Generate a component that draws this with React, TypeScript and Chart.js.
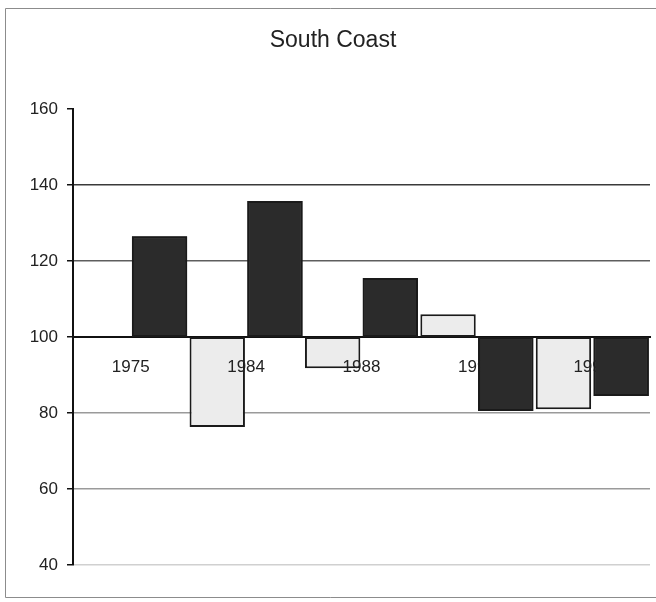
import React, { useEffect, useRef } from 'react';
import { Chart, registerables } from 'chart.js';

Chart.register(...registerables);

const chartTitle = 'South Coast';
const baseline = 100;
const barValues = [126.5, 76.3, 135.8, 91.8, 115.5, 106, 80.5, 81, 84.5];
const barShades = ['dark', 'light', 'dark', 'light', 'dark', 'light', 'dark', 'light', 'dark'];
const yearLabels = ['1975', '1984', '1988', '1992', '1996'];
const yMin = 40;
const yMax = 160;
const yStep = 20;

const FONT = "'Liberation Sans', Arial, sans-serif";

const gridColours: Record<number, string> = {
  160: 'rgba(0,0,0,0)',
  140: '#3a3a3a',
  120: '#5e5e5e',
  100: '#333333',
  80: '#9a9a9a',
  60: '#9a9a9a',
  40: '#d0d0d0',
};

const pointsFor = (shade: string) =>
  barValues
    .map((v, i) => ({ x: i + 1.5, y: [baseline, v], shade: barShades[i] }))
    .filter((p) => p.shade === shade)
    .map((p) => ({ x: p.x, y: p.y }));

export default function App() {
  const ref = useRef<HTMLCanvasElement | null>(null);

  useEffect(() => {
    if (!ref.current) return;
    const framePlugin = {
      id: 'frame',
      beforeDraw(chart: any) {
        const c = chart.ctx;
        c.save();
        c.fillStyle = '#ffffff';
        c.fillRect(0, 0, chart.width, chart.height);
        c.strokeStyle = '#8c8c8c';
        c.lineWidth = 1;
        c.beginPath();
        c.moveTo(chart.width, 8.5);
        c.lineTo(5.5, 8.5);
        c.lineTo(5.5, 597.5);
        c.lineTo(chart.width, 597.5);
        c.stroke();
        c.restore();
      },
    };
    // x-axis labels (drawn after datasets, z=1) sit above the light bars;
    // the dark bars are then drawn again on top so they hide the labels.
    const darkOnTopPlugin = {
      id: 'darkOnTop',
      afterDraw(chart: any) {
        const meta = chart.getDatasetMeta(0);
        chart.ctx.save();
        meta.controller.draw();
        chart.ctx.restore();
      },
    };

    const common = {
      borderColor: '#1a1a1a',
      borderWidth: 2,
      borderSkipped: false,
      barPercentage: 0.96,
      categoryPercentage: 1,
      grouped: false,
    };

    const chart = new Chart(ref.current, {
      type: 'bar',
      data: {
        datasets: [
          { ...common, data: pointsFor('dark') as any, backgroundColor: '#2b2b2b' },
          { ...common, data: pointsFor('light') as any, backgroundColor: '#ececec' },
        ],
      },
      options: {
        animation: false,
        responsive: false,
        maintainAspectRatio: false,
        layout: { padding: { left: 16, right: 6, top: 0, bottom: 37 } },
        plugins: {
          legend: { display: false },
          tooltip: { enabled: false },
          title: {
            display: true,
            text: chartTitle,
            color: '#222222',
            font: { family: FONT, size: 23, weight: 'normal' },
            padding: { top: 27, bottom: 54.4 },
          },
        },
        scales: {
          x: {
            type: 'linear',
            min: 0,
            max: 10,
            offset: false,
            position: { y: baseline } as any,
            afterBuildTicks: (s: any) => {
              s.ticks = yearLabels.map((_, k) => ({ value: 2 * k + 1 }));
            },
            ticks: {
              callback: (_v: any, i: number) => yearLabels[i],
              color: '#222222',
              font: { family: FONT, size: 17 },
              padding: 12,
              maxRotation: 0,
              autoSkip: false,
              z: 1,
            },
            grid: { display: false, offset: false },
            border: { display: true, color: '#111111', width: 2 },
          },
          y: {
            type: 'linear',
            min: yMin,
            max: yMax,
            ticks: {
              stepSize: yStep,
              color: '#222222',
              font: { family: FONT, size: 17 },
              padding: 9,
            },
            grid: {
              color: (ctx: any) => gridColours[ctx.tick?.value] ?? '#999999',
              lineWidth: 1.5,
              tickColor: '#111111',
              tickLength: 6,
            },
            border: { display: true, color: '#111111', width: 2 },
            afterFit: (s: any) => {
              s.width = 57;
            },
          },
        },
      },
      plugins: [framePlugin, darkOnTopPlugin],
    } as any);

    return () => chart.destroy();
  }, []);

  return (
    <div style={{ position: 'fixed', left: 0, top: 0, width: 656, height: 602, background: '#fff' }}>
      <canvas ref={ref} width={656} height={602} />
    </div>
  );
}
